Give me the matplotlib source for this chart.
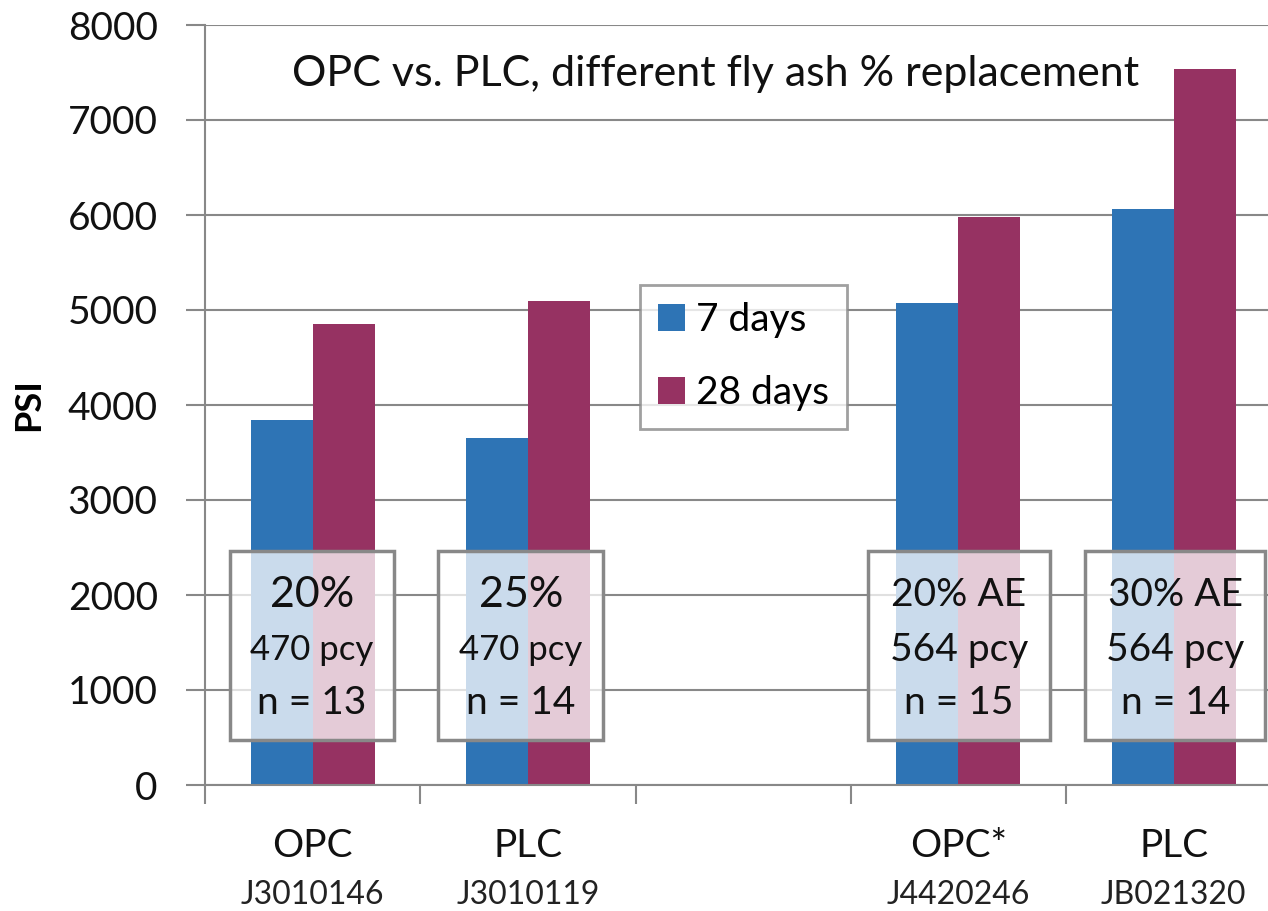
import numpy as np
from matplotlib import pyplot as plt
from matplotlib.patches import Rectangle

plt.rcParams['font.family'] = ['Lato', 'DejaVu Sans']

cement = ["OPC", "PLC", "", "OPC*", "PLC"]
mix_ids = ["J3010146", "J3010119", "", "J4420246", "JB021320"]
psi_7 = [3840, 3650, np.nan, 5070, 6060]
psi_28 = [4850, 5090, np.nan, 5980, 7540]
ash_pct = ["20%", "25%", None, "20% AE", "30% AE"]
pcy = ["470 pcy", "470 pcy", None, "564 pcy", "564 pcy"]
n_tests = ["n = 13", "n = 14", None, "n = 15", "n = 14"]

blue = "#2E74B5"
maroon = "#963262"
grey = "#888888"

fig = plt.figure(figsize=(12.68, 9.11), dpi=100)
ax = fig.add_axes([205/1268, 126/911, 1 - 205/1268, 760/911])

x = np.arange(len(cement))
w = 0.288
ax.bar(x - w/2, psi_7, w, color=blue, label="7 days", zorder=2)
ax.bar(x + w/2, psi_28, w, color=maroon, label="28 days", zorder=2)

ax.set_yticks(np.arange(0, 8001, 1000))
ax.set_ylim(0, 8000)
ax.yaxis.grid(True, color=grey, linewidth=1.5, zorder=0)
ax.set_axisbelow(True)
for s in ["top", "right"]:
    ax.spines[s].set_visible(False)
for s in ["left", "bottom"]:
    ax.spines[s].set_color(grey)
    ax.spines[s].set_linewidth(1.5)
ax.tick_params(axis="y", length=14, width=1.5, color=grey, pad=20, labelsize=28, labelcolor="#111111")

# category boundaries as ticks, labels drawn as text
ax.set_xticks(np.arange(-0.5, 4.0, 1.0))
ax.set_xticklabels([])
ax.set_xlim(-0.5, 4.438)
ax.tick_params(axis="x", length=14, width=1.5, color=grey)
tr = ax.get_xaxis_transform()
for i in range(len(cement)):
    ax.text(i, -0.08, cement[i], transform=tr, ha="center", va="center", fontsize=28, color="#111111")
    ax.text(i, -0.145, mix_ids[i], transform=tr, ha="center", va="center", fontsize=23, color="#222222")

ax.set_ylabel("PSI", fontsize=26, fontweight="bold", labelpad=16)

ax.text(0.48, 0.936, "OPC vs. PLC, different fly ash % replacement", transform=ax.transAxes,
        ha="center", va="center", fontsize=31, color="#111111")

# info boxes over the bars
box_ext = [(-0.384, 0.379), (0.584, 1.351), None, (2.579, 3.426), (3.588, 4.426)]
for i in range(len(cement)):
    if ash_pct[i] is None:
        continue
    x0, x1 = box_ext[i]
    ax.add_patch(Rectangle((x0, 470), x1 - x0, 1990, facecolor="white", alpha=0.75,
                           edgecolor="none", zorder=3))
    ax.add_patch(Rectangle((x0, 470), x1 - x0, 1990, facecolor="none",
                           edgecolor=grey, linewidth=2.5, zorder=4))
    if i < 2:
        sizes = (31, 25, 28)
    else:
        sizes = (28, 28, 28)
    cx = (x0 + x1) / 2
    ax.text(cx, 2000, ash_pct[i], ha="center", va="center", fontsize=sizes[0], color="#111111", zorder=5)
    ax.text(cx, 1420, pcy[i], ha="center", va="center", fontsize=sizes[1], color="#111111", zorder=5)
    ax.text(cx, 860, n_tests[i], ha="center", va="center", fontsize=sizes[2], color="#111111", zorder=5)

leg = ax.legend(loc="upper left", bbox_to_anchor=((640 - 205)/1063, (786 - 286)/760),
                fontsize=28, frameon=True, fancybox=False, borderpad=0.45,
                handlelength=0.7, handleheight=0.7, handletextpad=0.3, labelspacing=0.95,
                borderaxespad=0)
leg.get_frame().set_edgecolor(grey)
leg.get_frame().set_linewidth(2)

plt.savefig("out.png", dpi=100)
